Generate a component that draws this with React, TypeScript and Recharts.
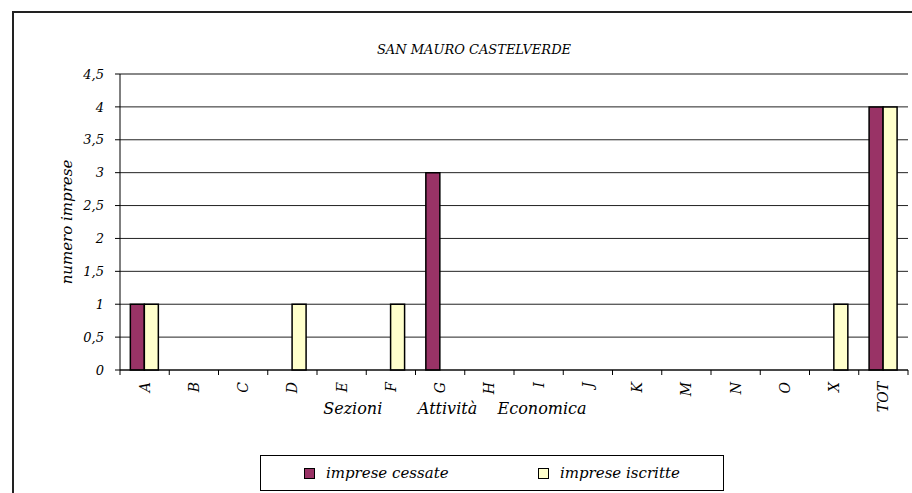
import { BarChart, Bar, XAxis, YAxis, CartesianGrid, ReferenceLine } from 'recharts';

const categories = ['A', 'B', 'C', 'D', 'E', 'F', 'G', 'H', 'I', 'J', 'K', 'M', 'N', 'O', 'X', 'TOT'];
const cessate = [1, 0, 0, 0, 0, 0, 3, 0, 0, 0, 0, 0, 0, 0, 0, 4];
const iscritte = [1, 0, 0, 1, 0, 1, 0, 0, 0, 0, 0, 0, 0, 0, 1, 4];
const yTicks = [0, 0.5, 1, 1.5, 2, 2.5, 3, 3.5, 4, 4.5];

const SERIES = [
  { key: 'cessate', name: 'imprese cessate', color: '#993366' },
  { key: 'iscritte', name: 'imprese iscritte', color: '#FFFFCC' },
];

const FONT = "'DejaVu Serif', 'Liberation Serif', serif";

const data = categories.map((name, i) => ({
  name,
  cessate: cessate[i],
  iscritte: iscritte[i],
}));

const fmt = (v: number) => String(v).replace('.', ',');

// excel style: tick marks between categories, rotated labels under each band
const CatTick = (props: any) => {
  const { x, y, payload, index } = props;
  const count = props.visibleTicksCount || categories.length;
  const half = payload.offset || Number(props.width) / count / 2;
  const top = y - 5;
  return (
    <g>
      {index === 0 && <line x1={x - half} x2={x - half} y1={top} y2={top + 5} stroke="#000" />}
      <line x1={x + half} x2={x + half} y1={top} y2={top + 5} stroke="#000" />
      <text
        x={x}
        y={y + 7}
        transform={`rotate(-90, ${x}, ${y + 7})`}
        textAnchor="end"
        dy="0.35em"
        fontSize={14}
        fontStyle="italic"
        fontFamily={FONT}
        fill="#000"
      >
        {payload.value}
      </text>
    </g>
  );
};

const XTitle = (props: any) => {
  const { viewBox } = props;
  return (
    <text
      x={viewBox.x + viewBox.width * 0.425}
      y={viewBox.y + 44}
      textAnchor="middle"
      fontSize={16}
      fontStyle="italic"
      fontFamily={FONT}
      fill="#000"
      style={{ whiteSpace: 'pre' }}
    >
      {'Sezioni       Attività    Economica'}
    </text>
  );
};

export default function App() {
  return (
    <div style={{ position: 'absolute', left: 0, top: 0, width: 912, height: 493, overflow: 'hidden', background: '#fff', fontFamily: FONT }}>
      <div style={{ position: 'absolute', left: 12, top: 11, width: 960, height: 600, border: '2px solid #222' }} />
      <div style={{ position: 'absolute', left: 0, top: 42, width: 948, textAlign: 'center', fontSize: 13, fontStyle: 'italic' }}>
        SAN MAURO CASTELVERDE
      </div>
      <div style={{ position: 'absolute', left: 0, top: 0 }}>
        <BarChart
          width={912}
          height={493}
          data={data}
          margin={{ top: 74, right: 4, bottom: 83, left: 0 }}
          barCategoryGap="21%"
          barGap={0}
        >
          <CartesianGrid horizontal vertical={false} stroke="#222" strokeWidth={1} />
          <XAxis
            dataKey="name"
            interval={0}
            height={40}
            tickSize={5}
            tickMargin={0}
            tickLine={false}
            axisLine={{ stroke: '#000' }}
            tick={<CatTick />}
            label={<XTitle />}
          />
          <YAxis
            domain={[0, 4.5]}
            ticks={yTicks}
            interval={0}
            width={120}
            tickSize={5}
            tickMargin={11}
            tickFormatter={fmt}
            axisLine={{ stroke: '#000' }}
            tickLine={{ stroke: '#000' }}
            tick={{ fill: '#000', fontSize: 13, fontStyle: 'italic', fontFamily: FONT }}
            label={{
              value: 'numero imprese',
              angle: -90,
              position: 'center',
              dx: 7,
              style: { fill: '#000', fontSize: 15, fontStyle: 'italic', fontFamily: FONT },
            }}
          />
          <YAxis
            yAxisId="right"
            orientation="right"
            width={0}
            domain={[0, 4.5]}
            tick={false}
            tickLine={false}
            axisLine={{ stroke: '#888', strokeWidth: 2 }}
          />
          <ReferenceLine y={4.5} stroke="#888" strokeWidth={2} />
          {SERIES.map((s) => (
            <Bar
              key={s.key}
              dataKey={s.key}
              name={s.name}
              fill={s.color}
              stroke="#000"
              strokeWidth={1.5}
              isAnimationActive={false}
            />
          ))}
        </BarChart>
      </div>
      <div
        style={{
          position: 'absolute',
          left: 260,
          top: 455,
          width: 462,
          height: 34,
          border: '1px solid #000',
          background: '#fff',
          fontSize: 15,
          fontStyle: 'italic',
        }}
      >
        {SERIES.map((s, i) => (
          <div
            key={s.key}
            style={{ position: 'absolute', left: i === 0 ? 43 : 277, top: 8, display: 'flex', alignItems: 'center', whiteSpace: 'nowrap' }}
          >
            <span style={{ display: 'inline-block', width: 9, height: 9, border: '1px solid #000', background: s.color, marginRight: 11 }} />
            <span>{s.name}</span>
          </div>
        ))}
      </div>
    </div>
  );
}
